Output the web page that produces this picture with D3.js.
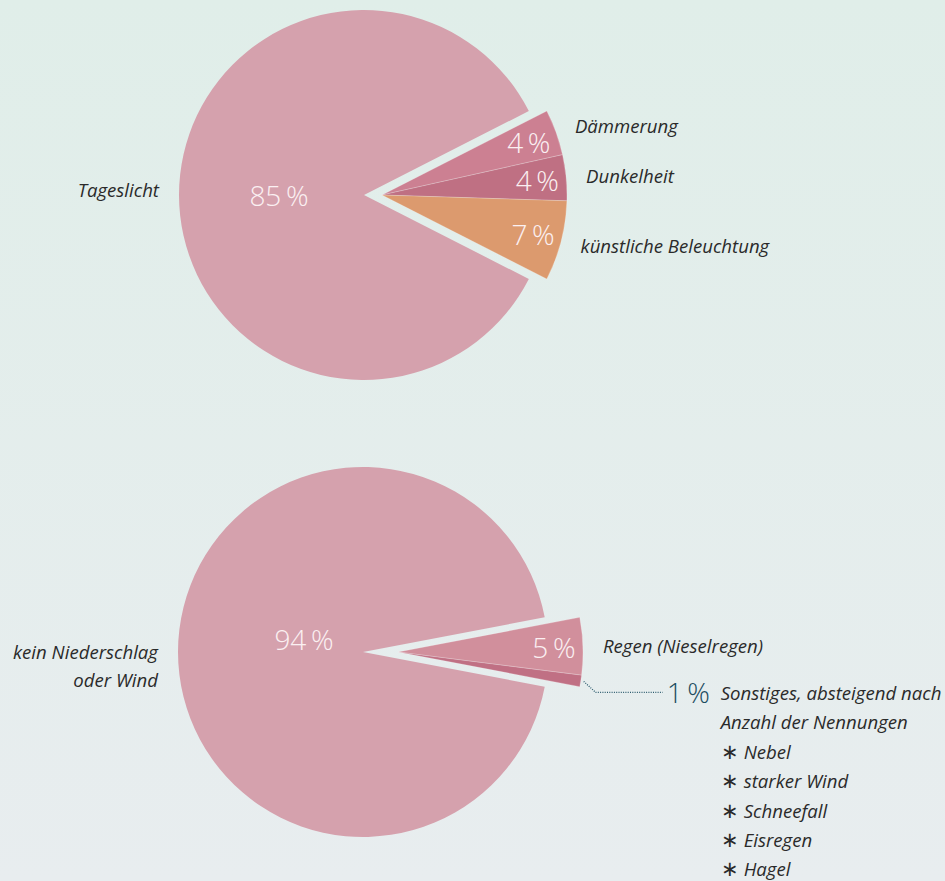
<!DOCTYPE html>
<meta charset="utf-8">
<style>
body {
  margin: 0;
  background: #e4eeeb;
}
svg {
  display: block;
}
.cat {
  font: italic 18.6px "Open Sans", sans-serif;
  fill: #2a2a2a;
}
.pct {
  font-family: "Open Sans", sans-serif;
  font-weight: 300;
  font-size: 28px;
  fill: #fbf0f2;
}
.other-pct {
  fill: #1c4c60;
}
.star {
  font-style: normal;
  font-size: 21px;
  font-weight: 300;
}
.leader {
  fill: none;
  stroke: #2b5b6d;
  stroke-width: 1.3px;
  stroke-dasharray: 1,1.3;
}
.slice {
  stroke: rgba(255,255,255,0.35);
  stroke-width: 0.6px;
}
</style>
<body>
<svg width="945" height="881"></svg>
</body>

<script src="https://d3js.org/d3.v7.min.js"></script>

<script>

// Lichtverhältnisse
var lightCats = ["Dämmerung", "Dunkelheit", "künstliche Beleuchtung", "Tageslicht"];
var lightValues = [4, 4, 7, 85];
var lightColors = ["#cc8092", "#bf7083", "#dc9a6e", "#d5a1ad"];

// Witterung
var weatherCats = ["Regen (Nieselregen)", "Sonstiges", "kein Niederschlag|oder Wind"];
var weatherValues = [5, 1, 94];
var weatherColors = ["#d18f9c", "#c07084", "#d5a1ad"];

// Sonstiges, absteigend nach Anzahl der Nennungen
var otherTitle = ["Sonstiges, absteigend nach", "Anzahl der Nennungen"];
var otherItems = ["Nebel", "starker Wind", "Schneefall", "Eisregen", "Hagel"];

var width = 945, height = 881, radius = 185;

var svg = d3.select("svg");

var defs = svg.append("defs");
var grad = defs.append("linearGradient")
  .attr("id", "bg")
  .attr("x1", 0).attr("y1", 0).attr("x2", 0).attr("y2", 1);
grad.append("stop").attr("offset", "0%").attr("stop-color", "#e0eee9");
grad.append("stop").attr("offset", "100%").attr("stop-color", "#e8edef");

svg.append("rect")
  .attr("width", width)
  .attr("height", height)
  .attr("fill", "url(#bg)");

var arc = d3.arc().innerRadius(0).outerRadius(radius);

function polar(r, a) {
  // d3 angles: 0 = top, clockwise
  return [r * Math.sin(a), -r * Math.cos(a)];
}

function fmt(v) { return v + "\u2009%"; }

function drawPie(opts) {
  var values = opts.values;
  var n = values.length;
  var total = d3.sum(values);
  var exploded = d3.sum(values.slice(0, n - 1)) / total;
  var start = Math.PI / 2 - Math.PI * exploded;

  var pie = d3.pie().sort(null).value(function(d) { return d; })
    .startAngle(start).endAngle(start + 2 * Math.PI);
  var arcs = pie(values);

  var g = svg.append("g")
    .attr("transform", "translate(" + opts.cx + "," + opts.cy + ")");

  // main slice (last one) stays in place
  var main = arcs[n - 1];
  g.append("path")
    .attr("d", arc(main))
    .attr("fill", opts.colors[n - 1]);

  var mid = (main.startAngle + main.endAngle) / 2;
  var p = polar(opts.mainPctR, mid);
  g.append("text")
    .attr("class", "pct")
    .attr("x", p[0])
    .attr("y", p[1] + opts.mainPctDy)
    .attr("text-anchor", "middle")
    .attr("dominant-baseline", "central")
    .text(fmt(values[n - 1]));

  var lines = opts.cats[n - 1].split("|");
  var lp = polar(205, mid);
  var t = g.append("text")
    .attr("class", "cat")
    .attr("text-anchor", "end")
    .attr("dominant-baseline", "central");
  lines.forEach(function(l, i) {
    t.append("tspan")
      .attr("x", lp[0])
      .attr("y", lp[1] + (i - (lines.length - 1) / 2) * 28 + opts.mainCatDy)
      .text(l);
  });

  // exploded group, pushed to the right
  var ex = g.append("g")
    .attr("transform", "translate(" + opts.offset + ",0)");

  ex.selectAll("path.slice")
    .data(arcs.slice(0, n - 1))
    .enter()
    .append("path")
    .attr("class", "slice")
    .attr("d", arc)
    .attr("fill", function(d, i) { return opts.colors[i]; });

  arcs.slice(0, n - 1).forEach(function(d, i) {
    var m = (d.startAngle + d.endAngle) / 2;
    if (opts.callout === i) return;
    var pp = polar(156, m);
    ex.append("text")
      .attr("class", "pct")
      .attr("x", pp[0])
      .attr("y", pp[1])
      .attr("text-anchor", "middle")
      .attr("dominant-baseline", "central")
      .text(fmt(d.value));
    var cp = polar(205, m);
    ex.append("text")
      .attr("class", "cat")
      .attr("x", cp[0])
      .attr("y", cp[1])
      .attr("dominant-baseline", "central")
      .text(opts.cats[i]);
  });

  if (opts.callout != null) {
    var d = arcs[opts.callout];
    var m = (d.startAngle + d.endAngle) / 2;
    var s = polar(radius + 3, m);
    var e = [s[0] + 12, s[1] + 11];
    var end = [s[0] + 79, e[1]];
    ex.append("path")
      .attr("class", "leader")
      .attr("d", "M" + s + "L" + e + "L" + end);
    ex.append("text")
      .attr("class", "pct other-pct")
      .attr("x", end[0] + 4)
      .attr("y", end[1])
      .attr("dominant-baseline", "central")
      .text(fmt(d.value));

    var tx = end[0] + 58;
    var ty = end[1];
    var block = ex.append("g");
    otherTitle.forEach(function(l, i) {
      block.append("text")
        .attr("class", "cat")
        .attr("x", tx)
        .attr("y", ty + i * 29.5)
        .attr("dominant-baseline", "central")
        .text(l);
    });
    otherItems.forEach(function(l, i) {
      var row = block.append("text")
        .attr("class", "cat")
        .attr("x", tx)
        .attr("y", ty + (i + 2) * 29.3)
        .attr("dominant-baseline", "central");
      row.append("tspan")
        .attr("class", "star")
        .text("\u2217");
      row.append("tspan")
        .attr("dx", 5)
        .text(l);
    });
  }
}

drawPie({
  cx: 364, cy: 195, offset: 18,
  values: lightValues, cats: lightCats, colors: lightColors,
  mainPctR: 85, mainPctDy: 0, mainCatDy: -6
});

drawPie({
  cx: 363, cy: 652, offset: 35,
  values: weatherValues, cats: weatherCats, colors: weatherColors,
  mainPctR: 59, mainPctDy: -13, mainCatDy: 13,
  callout: 1
});

</script>
